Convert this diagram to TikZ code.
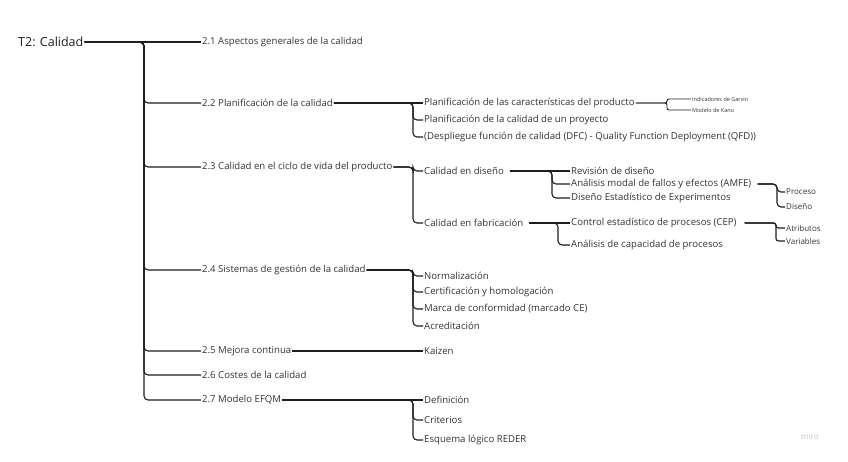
\documentclass[tikz,border=0pt]{standalone}
\usepackage{fontspec}
\setmainfont{Open Sans}
\definecolor{txt}{HTML}{333333}
\definecolor{ln}{HTML}{1E1E1E}
\definecolor{wm}{HTML}{C4C4C4}
\newcommand\mmbranch[4][]{\draw[link,#1] (#2.east) -- (#2.east -| #3) -- (#3 |- #4.west) -- (#4.west);}
\begin{document}
\begin{tikzpicture}[x=1pt,y=-1pt,
  every node/.style={anchor=west, inner sep=1pt, text=txt, font=\fontsize{9.6}{11}\selectfont},
  link/.style={draw=ln, line width=1.1pt, rounded corners=4pt},
  tiny/.style={font=\fontsize{8}{9}\selectfont},
  mini/.style={font=\fontsize{5.5}{6}\selectfont},
  rootnode/.style={font=\fontsize{12.5}{14}\selectfont, text=ln}]
\useasboundingbox (0,0) rectangle (848,461);
\fill[white] (0,0) rectangle (848,461);

% bracket x positions
\coordinate (B0) at (144,0);
\coordinate (B2) at (413,0);
\coordinate (B22) at (667,0);
\coordinate (B3) at (413,0);
\coordinate (B31) at (552,0);
\coordinate (B32) at (777,0);
\coordinate (B33) at (558,0);
\coordinate (B34) at (776,0);
\coordinate (B4) at (413,0);
\coordinate (B7) at (413,0);

% nodes
\node[rootnode] (root) at (17,42) {T2: Calidad};
\node (a1) at (201,42) {2.1 Aspectos generales de la calidad};
\node (a2) at (201,103) {2.2 Planificación de la calidad};
\node (a3) at (201,167) {2.3 Calidad en el ciclo de vida del producto};
\node (a4) at (201,270) {2.4 Sistemas de gestión de la calidad};
\node (a5) at (201,351) {2.5 Mejora continua};
\node (a6) at (201,375) {2.6 Costes de la calidad};
\node (a7) at (201,400) {2.7 Modelo EFQM};

\node (p1) at (423,103) {Planificación de las características del producto};
\node (p2) at (423,120) {Planificación de la calidad de un proyecto};
\node (p3) at (423,137) {(Despliegue función de calidad (DFC) - Quality Function Deployment (QFD))};
\node[mini] (g1) at (691,99) {Indicadores de Garvin};
\node[mini] (g2) at (691,110) {Modelo de Kano};

\node (d1) at (423,171) {Calidad en diseño};
\node (d2) at (423,223) {Calidad en fabricación};
\node (r1) at (570,171) {Revisión de diseño};
\node (r2) at (570,184) {Análisis modal de fallos y efectos (AMFE)};
\node (r3) at (570,198) {Diseño Estadístico de Experimentos};
\node[tiny] (s1) at (785,192) {Proceso};
\node[tiny] (s2) at (785,207) {Diseño};
\node (c1) at (570,223) {Control estadístico de procesos (CEP)};
\node (c2) at (570,245) {Análisis de capacidad de procesos};
\node[tiny] (v1) at (785,228) {Atributos};
\node[tiny] (v2) at (785,241) {Variables};

\node (n1) at (423,276) {Normalización};
\node (n2) at (423,292) {Certificación y homologación};
\node (n3) at (423,309) {Marca de conformidad (marcado CE)};
\node (n4) at (423,326) {Acreditación};

\node (k1) at (423,351) {Kaizen};

\node (e1) at (423,400) {Definición};
\node (e2) at (423,420) {Criterios};
\node (e3) at (423,440) {Esquema lógico REDER};

\node[font=\fontsize{8}{9}\selectfont, text=wm] (wmk) at (800,437) {miro};

% connectors: root
\draw[link, line width=1.7pt] (root.east) -- (a1.west);
\foreach \c in {a2,a3,a4,a5,a6,a7} {\mmbranch{root}{B0}{\c}}
\draw[link, line width=1.7pt] (root.east) -- (root.east -| B0);

% 2.2
\draw[link] (a2.east) -- (p1.west);
\foreach \c in {p2,p3} {\mmbranch{a2}{B2}{\c}}
\foreach \c in {g1,g2} {\draw[link, line width=0.9pt, rounded corners=2pt] (p1.east) -- (p1.east -| B22) -- (B22 |- \c.west) -- (\c.west);}

% 2.3
\foreach \c in {d1,d2} {\mmbranch{a3}{B3}{\c}}
\draw[link, shorten <=5pt] (d1.east) -- (r1.west);
\foreach \c in {r2,r3} {\mmbranch[shorten <=5pt]{d1}{B31}{\c}}
\foreach \c in {s1,s2} {\mmbranch[shorten <=5pt]{r2}{B32}{\c}}
\draw[link, shorten <=5pt] (d2.east) -- (c1.west);
\mmbranch[shorten <=5pt]{d2}{B33}{c2}
\foreach \c in {v1,v2} {\mmbranch[shorten <=7pt, rounded corners=2.5pt]{c1}{B34}{\c}}

% 2.4
\foreach \c in {n1,n2,n3,n4} {\mmbranch{a4}{B4}{\c}}

% 2.5
\draw[link] (a5.east) -- (k1.west);

% 2.7
\draw[link] (a7.east) -- (e1.west);
\foreach \c in {e2,e3} {\mmbranch{a7}{B7}{\c}}
\end{tikzpicture}
\end{document}
